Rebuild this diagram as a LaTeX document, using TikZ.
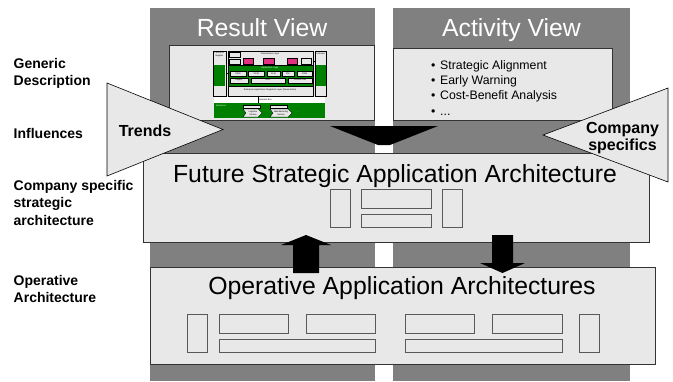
\documentclass[tikz,border=0pt]{standalone}
\usepackage{fontspec}
\setmainfont{Liberation Sans}
\definecolor{colgray}{HTML}{808080}
\definecolor{boxfill}{HTML}{E8E8E8}
\definecolor{boxline}{HTML}{333333}
\definecolor{mgreen}{HTML}{008000}
\definecolor{mpink}{HTML}{E0307F}
\newcommand\pbox[6]{%
  \pgfmathsetmacro\mybw{#5-#3}\pgfmathsetmacro\mybh{#6-#4}%
  \node[#1, minimum width=\mybw pt, minimum height=\mybh pt] (#2) at (#3,#4) {};}
\tikzset{
  column/.style={fill=colgray, draw=none, inner sep=0, outer sep=0, anchor=north west},
  panel/.style={draw=boxline, fill=boxfill, line width=0.8pt, inner sep=0, outer sep=0, anchor=north west},
  comp/.style={draw=black!65, line width=0.8pt, inner sep=0, outer sep=0, anchor=north west},
  tri/.style={draw=black, fill=boxfill, line width=0.6pt},
  blockarrow/.style={fill=black, draw=none},
  leftlabel/.style={font=\fontsize{14}{17.5}\selectfont\bfseries, align=left, inner sep=0, anchor=north west},
  viewtitle/.style={font=\fontsize{24.8}{29}\selectfont, text=white, inner sep=0, anchor=base},
  archtitle/.style={font=\fontsize{24.8}{29}\selectfont, inner sep=0, anchor=base},
  bullet/.style={font=\fontsize{12.3}{15}\selectfont, inner sep=0, anchor=base west},
  influence/.style={font=\fontsize{16}{17.5}\selectfont\bfseries, align=center, inner sep=0},
  mini/.style={draw=black, line width=0.35pt, inner sep=0, outer sep=0, anchor=north west},
  tiny/.style={font=\fontsize{2.2}{2.6}\selectfont, inner sep=0, align=center}
}
\begin{document}
\begin{tikzpicture}[x=1pt,y=-1pt]
\useasboundingbox (0,0) rectangle (673,381);
% columns
\pbox{column}{colL}{150}{8}{375}{381}
\pbox{column}{colR}{393}{8}{630}{381}
\node[viewtitle] (resT) at (262,36) {Result View};
\node[viewtitle] (actT) at (511.5,36) {Activity View};
% view panels
\pbox{panel}{res}{169}{45}{374}{120}
\pbox{panel}{act}{393}{48}{612}{120}
% activity bullets
\node[bullet] (b1) at (431,69.3) {\makebox[9pt][l]{•}Strategic Alignment};
\node[bullet] (b2) at (431,84.6) {\makebox[9pt][l]{•}Early Warning};
\node[bullet] (b3) at (431,99.9) {\makebox[9pt][l]{•}Cost-Benefit Analysis};
\node[bullet] (b4) at (431,115.2) {\makebox[9pt][l]{•}...};
% mini diagram inside result view
\pbox{mini, fill=boxfill}{mL}{212.7}{51}{226}{95.7}
\node[tiny] (mLt) at (219.3,54.5) {Partner \&\\Supplier};
\pbox{mini, draw=none, fill=mgreen}{mLg}{213.5}{65}{225.2}{85.5}
\pbox{mini, fill=boxfill}{mR}{315}{51}{326}{95.7}
\node[tiny] (mRt) at (320.5,53.5) {Customer};
\pbox{mini, draw=none, fill=mgreen}{mRg}{315.8}{65}{326}{85.5}
\pbox{mini, fill=boxfill}{mC}{227.7}{51}{313}{95.7}
\node[tiny] (mCt) at (270,53.5) {Presentation Layer};
\pbox{mini, fill=boxfill}{p1}{229}{52.3}{240}{57.3}
\pbox{mini, fill=boxfill}{p2}{229}{59}{240}{64}
\pbox{mini, fill=mpink}{p3}{243}{58}{253}{64}
\pbox{mini, fill=mpink}{p4}{263}{58}{274}{64}
\pbox{mini, fill=mpink}{p5}{287}{58}{297}{64}
\pbox{mini, fill=boxfill}{p6}{301}{58}{311.5}{64}
\pbox{mini, fill=mgreen}{al}{227.7}{65}{313}{85.7}
\node[tiny, text=white] (alt) at (270,67.5) {Application Logic};
\pbox{mini, fill=boxfill}{a1}{230}{71}{245.7}{75.7}
\pbox{mini, fill=boxfill}{a2}{248.3}{71}{264}{75.7}
\pbox{mini, fill=boxfill}{a3}{266.7}{71}{280}{75.7}
\pbox{mini, fill=boxfill}{a4}{281.7}{71}{294}{75.7}
\pbox{mini, fill=boxfill}{a5}{296.7}{71}{312.3}{75.7}
\node[tiny] (a1t) at (a1.center) {CRM};
\node[tiny] (a2t) at (a2.center) {SCM};
\node[tiny] (a3t) at (a3.center) {PLM};
\node[tiny] (a4t) at (a4.center) {KM};
\node[tiny] (a5t) at (a5.center) {CRM};
\pbox{mini, fill=boxfill}{c1}{230}{77.7}{248}{82.7}
\pbox{mini, fill=boxfill}{c2}{251}{77.7}{285}{82.7}
\pbox{mini, fill=boxfill}{c3}{288}{77.7}{312}{82.7}
\node[tiny] (c1t) at (c1.center) {Legacy};
\node[tiny] (c2t) at (c2.center) {ERP};
\node[tiny] (c3t) at (c3.center) {Custom SW};
\node[tiny] (eai) at (270,89.5) {Enterprise Application Integration Layer (Service Bus)};
\draw[line width=0.35pt] (mL.east |- 0,73) -- (mC.west |- 0,73);
\draw[line width=0.35pt] (mC.east |- 0,61) -- (mR.west |- 0,61);
\pbox{mini, draw=none, fill=white}{bb}{214}{97}{325}{103}
\node[tiny] (bbt) at (265,100) {Business Bus};
\draw[line width=0.35pt] (mC.south -| 258,0) -- (258,103);
\pbox{mini, draw=none, fill=mgreen}{es}{214}{103}{325}{117.5}
\node[tiny, text=white, anchor=west] (est) at (216,105.8) {eServices};
\pbox{mini, fill=boxfill}{h1}{243}{105}{260}{108}
\pbox{mini, fill=boxfill}{h2}{270}{105}{287}{108}
\draw[line width=0.35pt, fill=boxfill] (243,109) -- (258,109) -- (262,113) -- (258,117) -- (243,117) -- (246,113) -- cycle;
\draw[line width=0.35pt, fill=boxfill] (270,109) -- (288,109) -- (292,113) -- (288,117) -- (270,117) -- (273,113) -- cycle;
\node[tiny] (ch1) at (253,113) {Logistics\\Service};
\node[tiny] (ch2) at (281,113) {Manufacturing\\Service};
\node[tiny, text=white] (dots) at (298,112) {...};
% top arrow
\fill[blockarrow] (330,126) -- (438,126) -- (390,145) -- (378,145) -- cycle;
% architecture boxes
\pbox{panel}{fut}{143}{153}{649}{242}
\node[archtitle] (futT) at (395,182) {Future Strategic Application Architecture};
\pbox{comp}{f1}{330.7}{189}{350}{227}
\pbox{comp}{f2}{361.7}{189}{431}{208}
\pbox{comp}{f3}{361.7}{214}{431}{227}
\pbox{comp}{f4}{442}{189}{462}{227}
\pbox{panel}{op}{150}{267}{655}{364}
\node[archtitle] (opT) at (402,294) {Operative Application Architectures};
\pbox{comp}{o1}{187}{314}{207}{352}
\pbox{comp}{o2}{219}{314}{288}{333}
\pbox{comp}{o3}{306}{314}{375}{333}
\pbox{comp}{o4}{219}{339}{375}{352}
\pbox{comp}{o5}{405}{314}{474}{333}
\pbox{comp}{o6}{492}{314}{562}{333}
\pbox{comp}{o7}{405}{339}{562}{352}
\pbox{comp}{o8}{579}{314}{599}{352}
% up and down block arrows
\fill[blockarrow] (293,273) -- (293,245) -- (281,245) -- (306,235) -- (331,245) -- (319,245) -- (319,273) -- cycle;
\fill[blockarrow] (492,235) -- (513,235) -- (513,263) -- (525,263) -- (502.5,273) -- (480,263) -- (492,263) -- cycle;
% influence triangles
\draw[tri] (107,83) -- (223,129.5) -- (107,176) -- cycle;
\node[influence, anchor=base] (trends) at (145,136) {Trends};
\draw[tri] (668,88) -- (668,182) -- (543,135) -- cycle;
\node[influence, anchor=north] (cspec) at (622.5,122) {Company\\specifics};
% left labels
\node[leftlabel] (gen) at (13.5,58) {Generic\\Description};
\node[leftlabel] (infl) at (13.5,128) {Influences};
\node[leftlabel] (cstrat) at (13.5,180) {Company specific\\strategic\\architecture};
\node[leftlabel] (operl) at (13.5,275) {Operative\\Architecture};
\end{tikzpicture}
\end{document}
